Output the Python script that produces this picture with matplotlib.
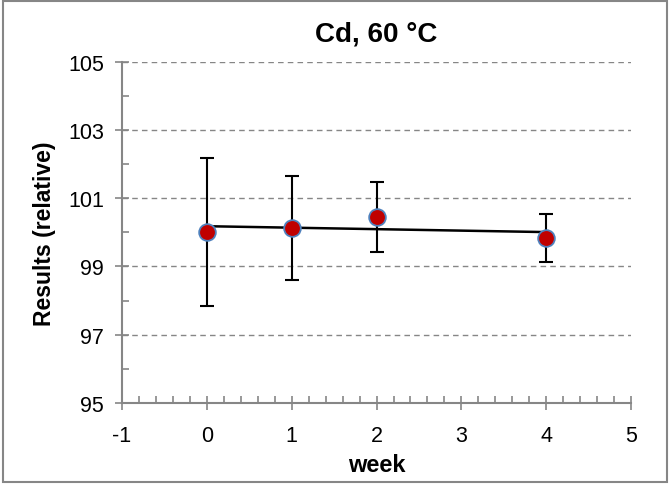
import numpy as np
import matplotlib
matplotlib.use("Agg")
import matplotlib.pyplot as plt
from matplotlib.ticker import MultipleLocator
from matplotlib.patches import Rectangle

plt.rcParams['font.family'] = ['Liberation Sans', 'DejaVu Sans']
plt.rcParams['axes.unicode_minus'] = False

# data
weeks = [0, 1, 2, 4]
results = [100.01, 100.12, 100.45, 99.83]
errors = [2.18, 1.52, 1.03, 0.71]
title = "Cd, 60 °C"

grey = '#868686'

fig = plt.figure(figsize=(6.7, 4.85), dpi=100)
ax = fig.add_axes([0.182, 0.167, 0.760, 0.704])

# linear trendline through the points
slope, icpt = np.polyfit(weeks, results, 1)
tx = np.array([min(weeks), max(weeks)])
ax.plot(tx, slope * tx + icpt, color='black', lw=1.8, zorder=3)

ax.errorbar(weeks, results, yerr=errors, fmt='none', ecolor='black',
            elinewidth=1.5, capsize=5, capthick=1.5, zorder=2)
ax.plot(weeks, results, 'o', ms=12, mfc='#C00000', mec='#4F81BD',
        mew=1.3, zorder=4)

ax.set_xlim(-1, 5)
ax.set_ylim(95, 105)
ax.xaxis.set_major_locator(MultipleLocator(1))
ax.xaxis.set_minor_locator(MultipleLocator(0.2))
ax.yaxis.set_minor_locator(MultipleLocator(1))
ax.set_yticks([95, 97, 99, 101, 103, 105])

ax.grid(axis='y', which='major', ls=(0, (4, 3)), color=grey, lw=1)
ax.set_axisbelow(True)
for s in ['top', 'right']:
    ax.spines[s].set_visible(False)
for s in ['left', 'bottom']:
    ax.spines[s].set_color(grey)
    ax.spines[s].set_linewidth(1.5)

ax.tick_params(which='major', direction='inout', length=10, width=1.2,
               color=grey, labelsize=15.5)
ax.tick_params(axis='x', which='major', pad=11)
ax.tick_params(axis='y', which='major', pad=8)
ax.tick_params(which='minor', direction='in', length=5, width=1.2, color=grey)

ax.set_title(title, fontsize=20, fontweight='bold', pad=15)
ax.set_xlabel('week', fontsize=17, fontweight='bold', labelpad=5)
ax.set_ylabel('Results (relative)', fontsize=16.5, fontweight='bold', labelpad=9)

# chart border
fig.patches.append(Rectangle((0.004, 0.005), 0.992, 0.99, transform=fig.transFigure,
                             fill=False, edgecolor=grey, lw=1.5))

fig.savefig('out.png', dpi=100)
